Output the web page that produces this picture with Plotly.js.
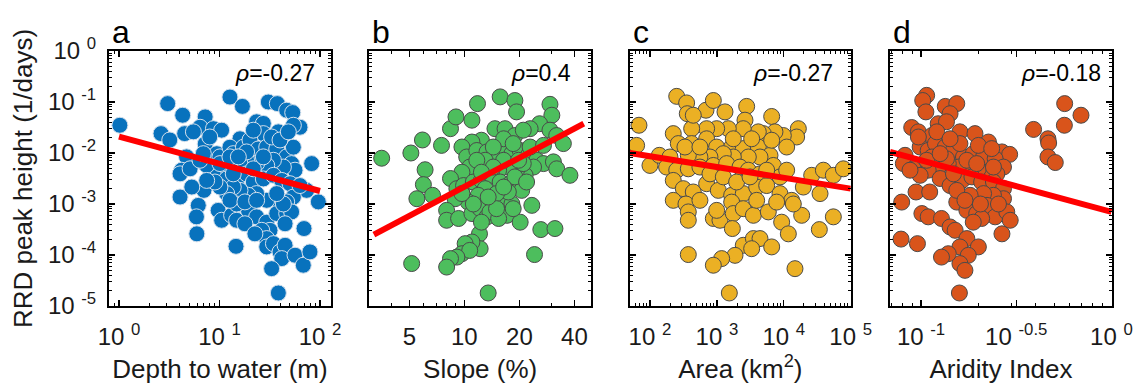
<!DOCTYPE html>
<html>
<head>
<meta charset="utf-8">
<script src="https://cdn.plot.ly/plotly-3.0.1.min.js"></script>
<style>html,body{margin:0;padding:0;background:#fff;}#chart{width:1134px;height:384px;}</style>
</head>
<body>
<div id="chart"></div>
<script>
// ---- Panel a: depth to water (m) vs RRD peak height (1/days)
const depthX = [1.02,3.05,4.3,2.62,3.2,4.5,7.2,12.7,16.9,30.6,
37.6,46.6,53.5,23.4,27.3,63.2,54.3,38.5,27.3,16.0,
6.4,8.7,10.5,7.2,4.7,4.2,4.05,5.1,9.4,10.1,
12.7,13.7,17.3,20.1,24.3,29.5,37.1,46.6,54.3,52.2,
56.4,43.2,34.4,29.5,23.4,18.6,16.0,12.7,10.1,8.7,
7.45,6.4,11.8,14.8,18.6,21.7,27.3,34.4,41.6,50.3,
82.6,73.6,96.2,54.3,46.6,38.5,29.5,23.4,19.4,16.0,
13.7,11.8,10.1,7.0,4.05,6.15,5.9,5.95,9.7,10.5,
13.2,14.8,19.4,23.4,29.5,37.1,46.6,52.2,44.9,31.8,
26.3,29.5,29.5,34.4,40.0,44.9,41.6,33.0,56.4,68.2,
79.4,69.3,14.6,38.5,14.8,12.7,17.9,9.0,7.45,5.3,
21.7,27.3,33.0,21.7,40.0,48.4,18.6,13.7,10.1,6.9,
8.0,5.5,23.4,43.2,17.9,22.5,37.1,63.2,12.7,15.4];
const depthRRD = [3.5e-2,9.3e-2,5.5e-2,2.4e-2,1.8e-2,2.4e-2,5.1e-2,1.25e-1,8.2e-2,1.0e-1,
9.3e-2,6.9e-2,6.2e-2,4.1e-2,3.8e-2,3.2e-2,3.5e-2,2.6e-2,2.4e-2,1.9e-2,
3.2e-2,3.0e-2,2.8e-2,1.5e-2,8.4e-3,4.6e-3,3.9e-3,4.9e-3,9.7e-3,8.4e-3,
1.3e-2,9.7e-3,1.3e-2,1.8e-2,1.2e-2,1.3e-2,1.2e-2,8.4e-3,1.3e-2,6.2e-3,
4.6e-3,5.3e-3,7.2e-3,5.7e-3,6.2e-3,7.2e-3,6.2e-3,5.3e-3,4.6e-3,3.65e-3,
5.7e-3,7.2e-3,3.1e-3,2.9e-3,3.9e-3,2.7e-3,3.1e-3,3.65e-3,2.9e-3,2.5e-3,
6.2e-3,1.85e-3,1.1e-3,1.37e-3,1.1e-3,1.18e-3,1.18e-3,1.6e-3,1.48e-3,1.85e-3,
2.15e-3,1.6e-3,2.15e-3,1.85e-3,1.37e-3,9.4e-4,5.6e-4,2.6e-4,7.5e-4,4.8e-4,
6.0e-4,4.8e-4,7.5e-4,5.6e-4,4.4e-4,6.5e-4,6.5e-4,7.0e-4,4.1e-4,3.05e-4,
3.05e-4,2.1e-4,1.44e-4,1.67e-4,1.15e-4,1.55e-4,8.5e-5,5.4e-5,9.9e-5,6.3e-5,
1.15e-4,3.3e-4,1.48e-4,1.8e-5,1.0e-3,1.18e-3,1.1e-3,2.7e-3,2.9e-3,2.15e-3,
4.9e-3,8.4e-3,2.06e-2,2.8e-2,1.8e-2,2.6e-2,1.05e-2,3.9e-3,6.2e-3,9.7e-3,
2.06e-2,2.6e-2,1.18e-3,1.0e-3,4.1e-4,2.6e-4,1.6e-3,2.3e-3,8.4e-3,8.4e-3];
const depthFitX = [1, 100];
const depthFitY = [0.021, 0.0018];

// ---- Panel b: slope (%)
const slopeX = [3.53,5.1,5.9,6.1,5.97,5.5,6.7,7.5,8.4,9.0,
11.0,11.8,15.7,18.9,19.3,29.4,30.1,25.8,22.9,29.4,
32.0,34.8,14.7,16.7,18.9,21.0,12.4,11.0,9.7,10.3,
11.7,13.3,15.0,16.7,18.2,20.2,22.4,24.9,27.1,30.7,
32.0,37.8,23.9,21.5,19.3,17.4,15.4,13.5,11.7,10.7,
9.7,8.4,9.1,9.9,11.2,12.4,14.1,15.7,17.8,20.6,
18.9,13.0,11.9,10.5,8.9,8.0,8.0,9.3,11.0,12.2,
13.3,14.4,15.7,17.1,18.2,20.2,17.4,15.0,13.8,23.4,
26.2,31.3,12.1,12.2,11.0,10.1,9.7,10.7,9.1,8.4,
8.0,5.15,24.2,13.5,15.4,12.4,16.4,18.5,14.4,13.0,
22.9,27.1,21.0,16.4,11.7,15.0,18.5,11.2,21.9,9.7,
13.5,16.4,19.8,14.4,12.4];
const slopeRRD = [7.9e-3,1.0e-2,1.8e-2,4.7e-3,2.4e-3,1.27e-3,1.48e-3,1.41e-2,3.0e-2,5.1e-2,
4.4e-2,9.3e-2,1.26e-1,1.07e-1,6.4e-2,9.0e-2,5.5e-2,3.75e-2,3.0e-2,2.8e-2,
2.2e-2,1.53e-2,3.0e-2,3.0e-2,2.2e-2,2.8e-2,1.78e-2,1.64e-2,1.31e-2,8.35e-3,
1.12e-2,1.05e-2,8.35e-3,1.31e-2,9.7e-3,1.12e-2,9.0e-3,7.2e-3,6.2e-3,6.7e-3,
4.9e-3,3.65e-3,5.3e-3,3.65e-3,4.6e-3,5.3e-3,4.6e-3,5.3e-3,4.9e-3,5.3e-3,
4.2e-3,3.16e-3,2.0e-3,2.3e-3,2.7e-3,2.9e-3,3.65e-3,2.7e-3,2.5e-3,1.85e-3,
3.4e-3,2.0e-3,1.48e-3,1.09e-3,1.27e-3,7.5e-4,4.8e-4,5.2e-4,6.5e-4,8.1e-4,
5.6e-4,1.09e-3,1.09e-3,6.0e-4,1.0e-3,4.4e-4,1.72e-3,1.6e-3,7.0e-4,9.4e-4,
3.15e-4,3.3e-4,2.6e-4,1.33e-4,1.8e-4,1.67e-4,1.06e-4,1.23e-4,9.1e-5,8.5e-5,
5.8e-5,6.8e-5,1.02e-4,1.8e-5,5.2e-4,4.4e-4,1.9e-2,1.53e-2,1.31e-2,7.2e-3,
1.31e-2,1.41e-2,6.2e-3,7.2e-3,7.2e-3,8.1e-4,8.1e-4,1.0e-3,2.7e-3,1.6e-3,
1.37e-3,2.15e-3,7.2e-3,5.3e-3,4.2e-3];
const slopeFitX = [3.2, 45];
const slopeFitY = [2.5e-4, 3.75e-2];

// ---- Panel c: area (km2)
const areaX = [68.5,63.2,100,138,251,353,361,687,885,1321,
2786,2630,6590,16490,15560,9840,7380,4940,4160,2480,
1480,993,703,420,223,265,420,703,993,1663,
2480,4160,6220,11040,6980,4410,2950,1760,1248,788,
558,374,199,177,251,374,558,885,1400,2213,
2950,4410,8770,11040,223,315,444,703,1050,1663,
2480,3930,5550,8770,13120,19590,26100,39000,55000,77600,
34800,223,345,374,374,885,1112,993,1663,1760,
2480,3510,5870,7820,9290,11690,18490,55000,33960,1702,
2480,3510,4410,6590,3310,1866,1178,885,374,14690,
1535,13870,3930,558,788,1248,1972,3126,5550,333,
558,1760,3310,6590,444];
const areaRRD = [3.5e-2,1.41e-2,5.7e-3,9.0e-3,1.29e-1,9.6e-2,5.9e-2,6.9e-2,1.07e-1,6.4e-2,
8.2e-2,4.4e-2,5.2e-2,3.0e-2,2.06e-2,2.2e-2,2.6e-2,2.4e-2,2.6e-2,3.0e-2,
3.0e-2,3.0e-2,3.0e-2,3.0e-2,2.4e-2,1.53e-2,1.53e-2,1.9e-2,1.31e-2,1.31e-2,
1.22e-2,1.31e-2,9.0e-3,1.31e-2,5.7e-3,8.35e-3,8.35e-3,8.35e-3,9.7e-3,8.35e-3,
8.35e-3,9.0e-3,8.35e-3,5.3e-3,4.6e-3,4.9e-3,5.3e-3,5.7e-3,6.2e-3,5.3e-3,
4.6e-3,3.9e-3,3.4e-3,4.6e-3,2.9e-3,2.0e-3,1.72e-3,2.5e-3,1.85e-3,1.48e-3,
1.6e-3,2.15e-3,2.3e-3,1.6e-3,1.18e-3,2.15e-3,3.65e-3,4.6e-3,3.65e-3,4.9e-3,
1.6e-3,1.18e-3,1.0e-3,7.0e-4,4.8e-4,5.2e-4,4.8e-4,7.5e-4,1.09e-3,6.5e-4,
8.1e-4,6.0e-4,7.0e-4,1.09e-3,4.4e-4,2.6e-4,6.0e-4,5.6e-4,3.15e-4,3.3e-4,
1.55e-4,2.1e-4,2.1e-4,1.44e-4,1.33e-4,9.85e-5,8.5e-5,6.3e-5,1.02e-4,5.4e-5,
1.8e-5,1.0e-3,1.18e-3,1.18e-3,3.9e-3,3.4e-3,2.7e-3,3.4e-3,4.6e-3,1.31e-2,
1.31e-2,1.9e-2,1.9e-2,1.78e-2,5.5e-2];
const areaFitX = [50, 100000];
const areaFitY = [0.0100, 0.0020];

// ---- Panel d: aridity index
const aridityX = [0.107,0.102,0.106,0.134,0.154,0.142,0.0893,0.0968,0.114,0.123,
0.136,0.160,0.192,0.226,0.266,0.292,0.390,0.464,0.468,0.464,
0.507,0.568,0.566,0.692,0.0824,0.0807,0.0912,0.0989,0.109,0.119,
0.134,0.148,0.167,0.188,0.213,0.245,0.271,0.250,0.222,0.200,
0.177,0.157,0.139,0.123,0.109,0.0989,0.0875,0.126,0.142,0.164,
0.185,0.208,0.240,0.271,0.271,0.240,0.213,0.181,0.154,0.174,
0.196,0.222,0.245,0.282,0.294,0.266,0.208,0.188,0.0941,0.111,
0.0791,0.101,0.109,0.128,0.142,0.151,0.174,0.200,0.160,0.177,
0.160,0.170,0.139,0.128,0.0785,0.0957,0.159,0.114,0.136,0.160,
0.200,0.235,0.174,0.196,0.240,0.148,0.107,0.126,0.154,0.205,
0.170,0.255,0.0968,0.121,0.142];
const aridityRRD = [1.35e-1,1.07e-1,6.4e-2,8.2e-2,9.3e-2,5.9e-2,3.16e-2,2.6e-2,2.2e-2,3.75e-2,
4.1e-2,2.6e-2,2.4e-2,1.64e-2,1.05e-2,9.4e-3,2.9e-2,1.9e-2,1.57e-2,8.35e-3,
6.5e-3,9.3e-2,3.5e-2,5.5e-2,9.0e-3,6.2e-3,4.9e-3,1.31e-2,1.12e-2,1.53e-2,
1.31e-2,1.12e-2,8.35e-3,9.7e-3,8.35e-3,7.7e-3,5.3e-3,3.9e-3,4.2e-3,4.9e-3,
5.7e-3,5.3e-3,6.2e-3,5.3e-3,4.6e-3,3.65e-3,4.6e-3,3.16e-3,2.3e-3,2.9e-3,
3.4e-3,2.7e-3,2.7e-3,2.0e-3,1.27e-3,1.48e-3,1.6e-3,1.48e-3,1.09e-3,7.5e-4,
6.5e-4,9.4e-4,5.6e-4,7.0e-4,4.8e-4,2.6e-4,5.2e-4,4.4e-4,1.72e-3,1.72e-3,
1.09e-3,6.5e-4,5.6e-4,5.2e-4,3.55e-4,3.05e-4,2.1e-4,1.44e-4,1.44e-4,9.85e-5,
6.8e-5,5.0e-5,1.06e-4,9.1e-5,2.05e-4,1.67e-4,1.8e-5,8.35e-3,7.7e-3,1.53e-2,
1.41e-2,1.22e-2,7.2e-3,6.2e-3,5.3e-3,3.9e-3,7.2e-3,9.7e-3,1.85e-3,1.0e-3,
1.18e-3,1.0e-3,2.06e-2,2.6e-2,1.9e-2];
const aridityFitX = [0.0687, 1];
const aridityFitY = [0.0105, 0.0007];

// ---- Text and ticks
const panelLetters = ['a','b','c','d'];
const rhoValues = ['-0.27','0.4','-0.27','-0.18'];
const xTitles = ['Depth to water (m)','Slope (%)','Area (km<sup>2</sup>)','Aridity Index'];
const yTitle = 'RRD peak height (1/days)';
const yTickVals = [1e-5,1e-4,1e-3,1e-2,1e-1,1];
const yTickText = ['10 <sup>-5</sup>','10 <sup>-4</sup>','10 <sup>-3</sup>','10 <sup>-2</sup>','10 <sup>-1</sup>','10 <sup>0</sup>'];
const xTickVals = [[1,10,100],[5,10,20,40],[100,1000,10000,100000],[0.1,Math.pow(10,-0.5),1]];
const xTickText = [['10 <sup>0</sup>','10 <sup>1</sup>','10 <sup>2</sup>'],['5','10','20','40'],
  ['10 <sup>2</sup>','10 <sup>3</sup>','10 <sup>4</sup>','10 <sup>5</sup>'],['10 <sup>-1</sup>','10 <sup>-0.5</sup>','10 <sup>0</sup>']];

// ---- Styling (not data)
const fills = ['#0872BD','#4DBE5D','#EBB024','#D9541B'];
const edges = ['#d4e0ec','#4a4a4a','#4a4a4a','#4a4a4a'];
const domains = [[0,0.2213],[0.2595,0.4806],[0.5194,0.7395],[0.7787,1]];
const xRanges = [[-0.0995,2.109],[0.48,1.693],[1.701,5.0],[-1.163,0.003]];
const rhoX = [0.2074,0.4623,0.7238,0.991];
const FONT = 'Liberation Sans, Arial, Helvetica, sans-serif';

const xs = [depthX, slopeX, areaX, aridityX];
const ys = [depthRRD, slopeRRD, areaRRD, aridityRRD];
const fxs = [depthFitX, slopeFitX, areaFitX, aridityFitX];
const fys = [depthFitY, slopeFitY, areaFitY, aridityFitY];

const traces = [];
const layout = {
  width:1134, height:384,
  margin:{l:109, r:22, t:51, b:78},
  paper_bgcolor:'#fff', plot_bgcolor:'#fff',
  showlegend:false,
  font:{family:FONT, color:'#1a1a1a'},
  annotations:[]
};

for (let i=0;i<4;i++){
  const sfx = i===0 ? '' : String(i+1);
  traces.push({x:xs[i], y:ys[i], xaxis:'x'+sfx, yaxis:'y'+sfx, type:'scatter', mode:'markers',
    marker:{size:16, color:fills[i], line:{color:edges[i], width:1}}, hoverinfo:'x+y'});
  traces.push({x:fxs[i], y:fys[i], xaxis:'x'+sfx, yaxis:'y'+sfx, type:'scatter', mode:'lines',
    line:{color:'#ff0000', width:6}, hoverinfo:'skip'});
  const common = {type:'log', showline:true, linecolor:'#000', linewidth:2, mirror:'allticks',
    ticks:'inside', ticklen:6, tickwidth:1.3, tickcolor:'#000', showgrid:false, zeroline:false,
    tickfont:{size:24, family:FONT, color:'#1a1a1a'},
    minor:{ticks:'inside', ticklen:3, tickwidth:1, tickcolor:'#000', showgrid:false, dtick:'D1'}};
  layout['xaxis'+sfx] = Object.assign({}, common, {
    domain:domains[i], anchor:'y'+sfx, range:xRanges[i],
    tickmode:'array', tickvals:xTickVals[i], ticktext:xTickText[i], ticklabelstandoff:8,
    title:{text:xTitles[i], font:{size:26, family:FONT, color:'#1a1a1a'}, standoff:17}
  });
  layout['yaxis'+sfx] = Object.assign({}, common, {
    domain:[0,1], anchor:'x'+sfx, range:[-5,0],
    tickmode:'array', tickvals:yTickVals, ticktext:yTickText, showticklabels:i===0, ticklabelstandoff:6,
    title: i===0 ? {text:yTitle, font:{size:26, family:FONT, color:'#1a1a1a'}, standoff:8} : {text:''}
  });
  layout.annotations.push({xref:'paper', yref:'paper', x:domains[i][0]+0.001, y:1.074, xanchor:'left', yanchor:'middle',
    text:panelLetters[i], showarrow:false, font:{size:32, family:FONT, color:'#000'}});
  layout.annotations.push({xref:'paper', yref:'paper', x:rhoX[i], y:0.914, xanchor:'right', yanchor:'middle',
    text:'<i>ρ</i>=' + rhoValues[i], showarrow:false, font:{size:23, family:FONT, color:'#000'}});
}

Plotly.newPlot('chart', traces, layout, {displayModeBar:false, staticPlot:true});
</script>
</body>
</html>
